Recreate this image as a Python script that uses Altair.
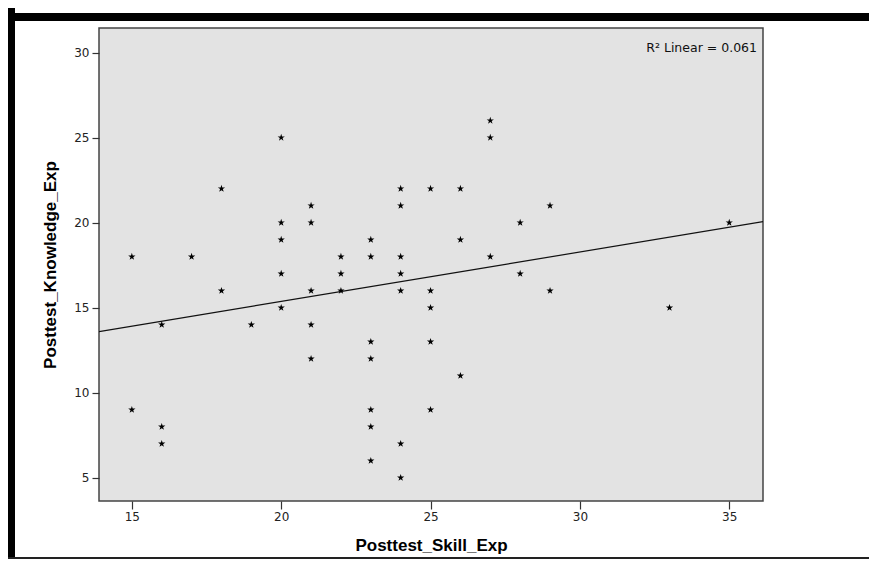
import altair as alt
import pandas as pd

# Data
skill = [15, 15,
         16, 16, 16,
         17,
         18, 18,
         19,
         20, 20, 20, 20, 20,
         21, 21, 21, 21, 21,
         22, 22, 22,
         23, 23, 23, 23, 23, 23, 23,
         24, 24, 24, 24, 24, 24, 24,
         25, 25, 25, 25, 25,
         26, 26, 26,
         27, 27, 27,
         28, 28,
         29, 29,
         33,
         35]
knowledge = [18, 9,
             14, 8, 7,
             18,
             22, 16,
             14,
             25, 20, 19, 17, 15,
             21, 20, 16, 14, 12,
             18, 17, 16,
             19, 18, 13, 12, 9, 8, 6,
             22, 21, 18, 17, 16, 7, 5,
             22, 16, 15, 13, 9,
             22, 19, 11,
             26, 25, 18,
             20, 17,
             21, 16,
             15,
             20]
# Linear fit line (ends at the plot edges)
fit_x = [13.9, 36.13]
fit_y = [13.59, 20.06]
x_ticks = [15, 20, 25, 30, 35]
y_ticks = [5, 10, 15, 20, 25, 30]
x_domain = [13.9, 36.13]
y_domain = [3.63, 31.45]
r2_label = "R\u00b2 Linear = 0.061"

df = pd.DataFrame({"Posttest_Skill_Exp": skill, "Posttest_Knowledge_Exp": knowledge})
fit_df = pd.DataFrame({"Posttest_Skill_Exp": fit_x, "Posttest_Knowledge_Exp": fit_y})

W, H = 664, 473
PAD_L, PAD_T, PAD_R, PAD_B = 91, 20, 106, 58

star = ("M0,-1 L0.2245,-0.309 L0.951,-0.309 L0.363,0.118 L0.588,0.809 "
        "L0,0.382 L-0.588,0.809 L-0.363,0.118 L-0.951,-0.309 L-0.2245,-0.309 Z")

xs = alt.Scale(domain=x_domain, nice=False, zero=False)
ys = alt.Scale(domain=y_domain, nice=False, zero=False)

xaxis = alt.Axis(values=x_ticks, title="Posttest_Skill_Exp", grid=False, domain=False,
                 tickSize=8, tickColor="#333", tickWidth=1.2, labelPadding=2,
                 labelFontSize=12, labelColor="#222", labelFont="DejaVu Sans",
                 titleFont="Liberation Sans", titleFontSize=17, titleFontWeight="bold",
                 titleColor="#000", titlePadding=15)
yaxis = alt.Axis(values=y_ticks, title="Posttest_Knowledge_Exp", grid=False, domain=False,
                 tickSize=7, tickColor="#333", tickWidth=1.2, labelPadding=3,
                 labelFontSize=12, labelColor="#222", labelFont="DejaVu Sans",
                 titleFont="Liberation Sans", titleFontSize=17, titleFontWeight="bold",
                 titleColor="#000", titlePadding=14)

points = alt.Chart(df).mark_point(shape=star, filled=True, color="#000", size=58, opacity=1).encode(
    x=alt.X("Posttest_Skill_Exp:Q", scale=xs, axis=xaxis),
    y=alt.Y("Posttest_Knowledge_Exp:Q", scale=ys, axis=yaxis),
)

fit = alt.Chart(fit_df).mark_line(color="#111", strokeWidth=1.2, clip=True).encode(
    x=alt.X("Posttest_Skill_Exp:Q", scale=xs),
    y=alt.Y("Posttest_Knowledge_Exp:Q", scale=ys),
)

one = alt.Data(values=[{"t": r2_label}])

r2 = alt.Chart(one).mark_text(align="right", baseline="middle", fontSize=12.5,
                              font="DejaVu Sans", color="#111").encode(
    x=alt.value(W - 6), y=alt.value(20), text="t:N")

frame_left = alt.Chart(one).mark_rect(color="#000").encode(
    x=alt.value(-PAD_L), x2=alt.value(-PAD_L + 7),
    y=alt.value(-PAD_T - 3), y2=alt.value(H + PAD_B))
frame_top = alt.Chart(one).mark_rect(color="#000").encode(
    x=alt.value(-PAD_L), x2=alt.value(W + PAD_R),
    y=alt.value(-15), y2=alt.value(-7))
frame_bottom = alt.Chart(one).mark_rect(color="#222").encode(
    x=alt.value(-PAD_L), x2=alt.value(W + PAD_R),
    y=alt.value(H + 56), y2=alt.value(H + 58))

chart = alt.layer(fit, points, r2, frame_left, frame_top, frame_bottom).properties(
    width=W, height=H,
    autosize=alt.AutoSizeParams(type="none"),
    padding={"left": PAD_L, "top": PAD_T, "right": PAD_R, "bottom": PAD_B},
    background="#ffffff",
).configure_view(fill="#e3e3e3", stroke="#444", strokeWidth=1.5)

chart.save("out.html", embed_options={"renderer": "svg", "actions": False})
